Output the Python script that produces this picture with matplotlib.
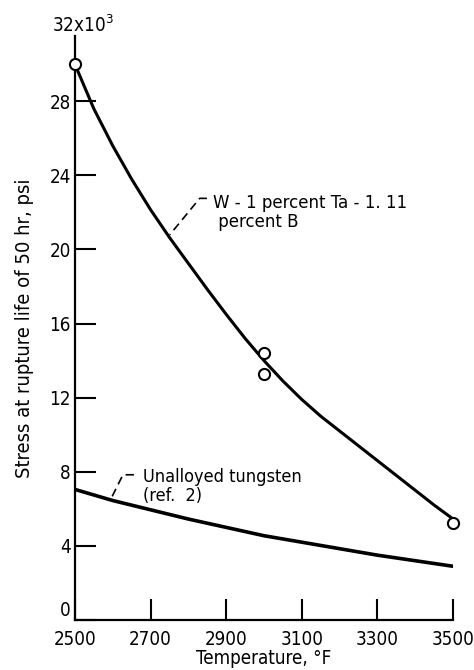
import matplotlib
matplotlib.use('Agg')
import matplotlib.pyplot as plt

plt.rcParams['font.family'] = ['DejaVu Sans']
plt.rcParams['font.stretch'] = 'condensed'
plt.rcParams['mathtext.fontset'] = 'custom'
plt.rcParams['mathtext.rm'] = 'DejaVu Sans:stretch=condensed'

# W - 1 percent Ta - 1.11 percent B (curve)
temp_w = [2500, 2550, 2600, 2650, 2700, 2750, 2800, 2850, 2900, 2950, 3000,
          3050, 3100, 3150, 3200, 3250, 3300, 3350, 3400, 3450, 3500]
stress_w = [30.0, 27.6, 25.6, 23.8, 22.15, 20.65, 19.25, 17.85, 16.5, 15.2, 14.0,
            12.9, 11.9, 11.0, 10.2, 9.4, 8.6, 7.8, 7.0, 6.2, 5.45]
# measured points
temp_pts = [2500, 3000, 3000, 3500]
stress_pts = [30.0, 14.4, 13.3, 5.25]
# unalloyed tungsten (ref. 2)
temp_u = [2500, 2600, 2700, 2800, 2900, 3000, 3100, 3200, 3300, 3400, 3500]
stress_u = [7.05, 6.45, 5.95, 5.45, 5.0, 4.55, 4.2, 3.85, 3.5, 3.2, 2.9]

xticks = [2500, 2700, 2900, 3100, 3300, 3500]
yticks = [0, 4, 8, 12, 16, 20, 24, 28]

fig = plt.figure(figsize=(4.74, 6.70), dpi=100)
ax = fig.add_axes([0.158, 0.0746, 0.798, 0.871])

ax.plot(temp_w, stress_w, 'k-', lw=2.2, solid_capstyle='butt')
ax.plot(temp_u, stress_u, 'k-', lw=2.6, solid_capstyle='butt')
ax.plot(temp_pts, stress_pts, 'o', ms=8, mfc='white', mec='k', mew=1.5, clip_on=False, zorder=5)

ax.set_xlim(2500, 3500)
ax.set_ylim(0, 31.5)
ax.set_xticks(xticks)
ax.set_yticks(yticks)
for s in ['top', 'right']:
    ax.spines[s].set_visible(False)
for s in ['left', 'bottom']:
    ax.spines[s].set_linewidth(1.6)
ax.tick_params(direction='in', length=15, width=1.5, labelsize=13.5, pad=3)
ax.tick_params(axis='x', pad=7)
# zero label sits a bit higher, clear of 2500
ax.get_yticklabels()[0].set_va('bottom')

ax.text(0.02, 1.0, '32x10$^3$', transform=ax.transAxes, ha='center', va='bottom', fontsize=13.5)

ax.set_ylabel('Stress at rupture life of 50 hr, psi', fontsize=14.5)
ax.yaxis.set_label_coords(-0.108, 0.5)
ax.set_xlabel('Temperature, °F', fontsize=13.5, labelpad=0)

# leaders and labels
ax.plot([2849, 2830, 2751], [22.76, 22.76, 20.8], 'k--', lw=1.2, dashes=(5, 3))
ax.text(2865, 22.0, 'W - 1 percent Ta - 1. 11\n percent B', fontsize=13.3, va='center', ha='left', linespacing=1.05)
ax.plot([2656, 2627, 2598], [7.84, 7.84, 6.65], 'k--', lw=1.2, dashes=(5, 3))
ax.text(2680, 7.2, 'Unalloyed tungsten\n(ref.  2)', fontsize=13, va='center', ha='left', linespacing=1.05)

fig.savefig('out.png', dpi=100)
